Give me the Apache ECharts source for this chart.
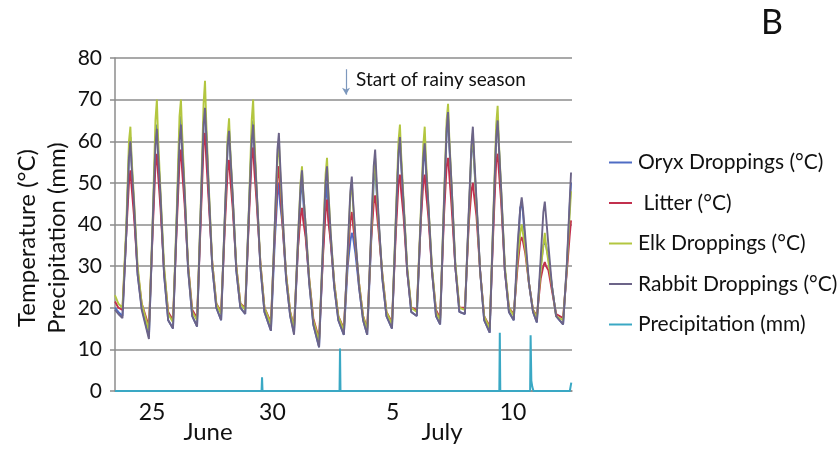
<!DOCTYPE html>
<html><head><meta charset="utf-8">
<script src="https://cdn.jsdelivr.net/npm/echarts@6/dist/echarts.min.js"></script>
<style>html,body{margin:0;padding:0;background:#fff}#c{width:839px;height:450px}</style>
</head><body><div id="c"></div>
<script>
// x values are in days (June 25 = 25, July 5 = 35 ...)
const peakDays = [24.10,25.20,26.20,27.20,28.20,29.20,30.27,31.23,32.27,33.30,34.27,35.30,36.33,37.30,38.33,39.36,40.36,41.32,42.41];
const cycleOffsets = [-0.33,-0.17,-0.06,0,0.05,0.15,0.30,0.47];
const startDays = [23.46,23.60];
const tickDays = [25,30,35,40];
const tickLabels = ['25','30','5','10'];

// each cycle: [trough, rising, near peak, peak, after peak, falling, evening, night]
const oryxStart = [20,19];
const oryx = [
 [18,38,57,61,55,44,28,20],[13,40,60,64,58,46,28,17],[15,42,62,66,60,47,29,18],[15.5,44,64,68,62,48,30,20],
 [17,42,59,63,57,46,29,20],[18.5,44,61,65,59,47,30,19],[14.5,36,47,50,45,40,27,18],[14,34,47,51,46,38,26,16],
 [10.5,33,46,50,44,36,25,17],[13.5,30,36,38,37,33,25,17],[13.5,35,50,54,49,40,27,18],[15,40,57,61,55,45,29,19],
 [18,40,55,58.5,53,44,29,18],[16,44,62,65.5,59,48,30,19],[18.5,42,57,61,55,45,29,17],[14,42,61,65,59,47,29,19],
 [17,33,44,45,43,35,26,19],[16.5,30,35,36,35,32,25,18],[16,30,44,50]
];
const litterStart = [21.5,20];
const litter = [
 [19.5,38,50,53,49,42,29,21],[15.5,39,54,57,52,44,29,19],[17,40,55,58,53,45,30,19.5],[17.5,42,59,62,56,46,31,21],
 [19,40,53,55.5,51,44,30,21],[20,42,56,58.5,53,45,31,20],[16.5,38,51,54,49,40,28,19],[15.5,34,42,44,41,37,27,17.5],
 [12.5,32,43,46,41,36,26,18],[15,32,41,43,40,35,26,18],[15,36,45,47,44,38,28,19],[16.5,38,50,52,48,42,29,20],
 [19.5,40,50,52,48,42,29,19.5],[17.5,42,54,56,52,44,30,20],[20,40,48,50,47,42,29,18],[15.5,40,55,57,53,45,29,20],
 [18.5,30,36,37,36,33,26,19.5],[18,27,30,31,30,29,24,18.5],[17.5,29,37,41]
];
const elkStart = [23,21];
const elk = [
 [20,40,60,63.5,56,46,30,21],[14.5,42,65,70,61,48,30,18.5],[16.5,44,66,70,62,49,30,19],[17,46,69,74.5,65,50,31,21],
 [18.5,43,61,65.5,58,47,30,21],[19.5,45,65,70,61,48,31,20],[16,40,56,60,53,42,28,19],[15,36,50,54,48,40,27,17],
 [12,35,52,56,49,38,26,18],[14.5,33,47,50,45,36,26,18],[14.5,37,52,56,50,40,28,19],[16,42,60,64,57,46,30,20],
 [19,42,59,63.5,56,45,30,19],[17,46,65,69,61,49,31,20],[19.5,42,58,62,56,45,29,18],[15,44,64,68.5,60,48,30,20],
 [18,32,38,40,38,34,26,19.5],[17.5,29,35,38,35,31,25,18],[17,30,42,48]
];
const rabbitStart = [19.5,18.5];
const rabbit = [
 [17.5,38,56,60,54,45,28,19.5],[12.5,41,59,63,57,47,28,17],[15,42,60,64,58,48,29,18],[15.5,45,64,68,62,49,30,20],
 [17,43,59,62.5,57,47,29,20],[18.5,44,60,64,58,48,30,19],[14.5,40,58,62,55,43,27,18],[13.5,36,49,53,48,40,26,16],
 [10.5,35,50,54,48,38,25,17],[13.5,34,48,51.5,46,37,25,17],[13.5,38,54,58,52,41,27,18],[15,41,57,61,55,45,29,19],
 [18,41,56,59.5,54,45,29,18],[16,45,63,67,60,49,30,19],[18.5,43,59,63.5,57,46,29,17],[14,43,61,65,59,48,29,19],
 [17,35,44,46.5,44,37,26,19],[16.5,32,43,45.5,42,35,25,18],[16,31,45,52.5]
];
const precipDays =   [23.46,29.55,29.57,29.59,32.79,32.81,32.83,39.43,39.45,39.47,40.71,40.73,40.76,40.80,40.85,42.36,42.42];
const precipValues = [0,    0,    3.3,  0,    0,    10.2, 0,    0,    14,   0,    0,    13.4, 2.5,  1,    0,    0,    2];

const rainStartDay = 33.06;
const seriesNames = ['Oryx Droppings (°C)',' Litter (°C)','Elk Droppings (°C)','Rabbit Droppings (°C)','Precipitation (mm)'];
const colors = ['#4f6cc4','#c2304e','#b3c640','#6c6488','#3aa8c4'];

function build(startVals, cycles){
  const out = startDays.map((d,i)=>[d,startVals[i]]);
  cycles.forEach((vals,i)=>{
    vals.forEach((v,j)=>out.push([+(peakDays[i]+cycleOffsets[j]).toFixed(3), v]));
  });
  return out;
}
const FONT = 'Lato';
const chart = echarts.init(document.getElementById('c'), null, {renderer:'canvas'});
const tempSets = [[oryxStart,oryx],[litterStart,litter],[elkStart,elk],[rabbitStart,rabbit]];
const series = tempSets.map((s,k)=>({
  name: seriesNames[k], type:'line', data: build(s[0],s[1]), symbol:'none',
  lineStyle:{width:1.9,color:colors[k]}, itemStyle:{color:colors[k]}, animation:false
}));
series.push({
  name: seriesNames[4], type:'line', data: precipDays.map((d,i)=>[d,precipValues[i]]),
  symbol:'none', lineStyle:{width:2,color:colors[4]}, itemStyle:{color:colors[4]}, animation:false,
  markLine:{silent:true, animation:false, symbol:['none','arrow'], symbolSize:[6,7],
    lineStyle:{color:'#7d98bd',width:1.2,type:'solid'}, label:{show:false},
    data:[[{coord:[rainStartDay,77.3]},{coord:[rainStartDay,71.2]}]]}
});
chart.setOption({
  animation:false,
  grid:{left:115,right:267,top:58,bottom:59},
  xAxis:{type:'value',min:23.46,max:42.45,
    axisLine:{show:true,lineStyle:{color:'#8c8c8c',width:1.5}},
    axisTick:{show:false}, splitLine:{show:false},
    axisLabel:{customValues:tickDays, formatter:v=>tickLabels[tickDays.indexOf(v)],
      fontFamily:FONT,fontSize:23,color:'#111',margin:10}},
  yAxis:{type:'value',min:0,max:80,interval:10,
    axisLine:{show:true,lineStyle:{color:'#8c8c8c',width:1.5}},
    axisTick:{show:true,length:5,lineStyle:{color:'#8c8c8c',width:1.5}},
    splitLine:{lineStyle:{color:'#8c8c8c',width:1.5}},
    axisLabel:{fontFamily:FONT,fontSize:21,color:'#111',margin:13}},
  legend:{orient:'vertical',left:604,top:147,itemGap:19.5,itemWidth:23,itemHeight:2,icon:'rect',
    textStyle:{fontFamily:FONT,fontSize:21,color:'#111',padding:[0,0,0,1]},data:seriesNames},
  graphic:[
    {type:'text',left:761,top:6,style:{text:'B',fontFamily:FONT,fontSize:34,fill:'#111'}},
    {type:'text',x:356,y:80,style:{text:'Start of rainy season',fontFamily:FONT,fontSize:19,fill:'#111',verticalAlign:'middle'}},
    {type:'text',x:42,y:238,rotation:Math.PI/2,style:{text:'Temperature (°C)\nPrecipitation (mm)',fontFamily:FONT,fontSize:24,lineHeight:30,fill:'#111',align:'center',verticalAlign:'middle'}},
    {type:'text',x:208,y:432,style:{text:'June',fontFamily:FONT,fontSize:24,fill:'#111',align:'center',verticalAlign:'middle'}},
    {type:'text',x:442,y:432,style:{text:'July',fontFamily:FONT,fontSize:24,fill:'#111',align:'center',verticalAlign:'middle'}}
  ],
  series
});
</script></body></html>
